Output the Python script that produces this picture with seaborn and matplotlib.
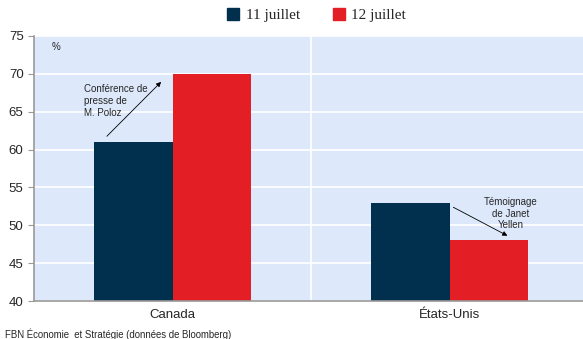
import matplotlib
matplotlib.use("Agg")
import matplotlib.pyplot as plt
import seaborn as sns
import pandas as pd
from matplotlib.lines import Line2D

categories = ["Canada", "États-Unis"]
series = ["11 juillet", "12 juillet"]
values_11 = [61, 53]
values_12 = [70, 48]
colors = ["#01304F", "#E31E25"]

df = pd.DataFrame({
    "cat": categories * 2,
    "serie": [series[0]] * 2 + [series[1]] * 2,
    "val": values_11 + values_12,
})

sns.set_style("white")
plt.rcParams["font.family"] = ["Liberation Sans", "DejaVu Sans"]

fig = plt.figure(figsize=(5.83, 3.39), dpi=100)
ax = fig.add_axes([34/583, 38/339, 554/583, 265/339])
ax.set_facecolor("#DDE9FB")

sns.barplot(data=df, x="cat", y="val", hue="serie", palette=colors,
            width=0.57, ax=ax, legend=False, saturation=1, edgecolor="none")

ax.set_ylim(40, 75)
ax.set_xlim(-0.5, 1.5)
ax.set_yticks(range(40, 80, 5))
ax.set_axisbelow(True)
ax.yaxis.grid(True, color="white", linewidth=1.2)
ax.axvline(0.5, color="white", linewidth=1.2, zorder=0)
ax.set_xticks([0, 1])
ax.set_xticklabels(categories)
ax.set_xticks([0.5], minor=True)
ax.tick_params(axis="x", which="major", length=0, labelsize=9.5, pad=6)
ax.tick_params(axis="x", which="minor", length=4, color="#999999", direction="out")
ax.tick_params(axis="y", length=4, color="#999999", labelsize=9.5, direction="out", left=True)
ax.set_xlabel("")
ax.set_ylabel("")
for s in ["top", "right"]:
    ax.spines[s].set_visible(False)
for s in ["left", "bottom"]:
    ax.spines[s].set_color("#999999")
    ax.spines[s].set_linewidth(1.2)

ax.text(-0.437, 74.2, "%", fontsize=7, va="top", ha="left")

ax.annotate("", xy=(-0.034, 69.2), xytext=(-0.244, 61.5),
            arrowprops=dict(arrowstyle="-|>", color="black", lw=0.6, mutation_scale=7))
ax.text(-0.32, 68.6, "Conférence de\npresse de\nM. Poloz", fontsize=7,
        ha="left", va="top", linespacing=1.2)

ax.annotate("", xy=(1.218, 48.45), xytext=(1.005, 52.55),
            arrowprops=dict(arrowstyle="-|>", color="black", lw=0.6, mutation_scale=7))
ax.text(1.222, 53.7, "Témoignage\nde Janet\nYellen", fontsize=7,
        ha="center", va="top", linespacing=1.2)

handles = [Line2D([], [], marker="s", linestyle="none", markersize=8,
                  markerfacecolor=c, markeredgecolor=c) for c in colors]
fig.legend(handles, series, loc="center", bbox_to_anchor=(316/583, 1 - 15/339),
           ncol=2, frameon=False, prop={"family": "Liberation Serif", "size": 11},
           handletextpad=0.35, columnspacing=2.1, handlelength=0.9)

fig.text(5/583, 1 - 334/339, "FBN Économie  et Stratégie (données de Bloomberg)",
         fontsize=6.9, ha="left", va="center")

fig.savefig("out.png", dpi=100)
